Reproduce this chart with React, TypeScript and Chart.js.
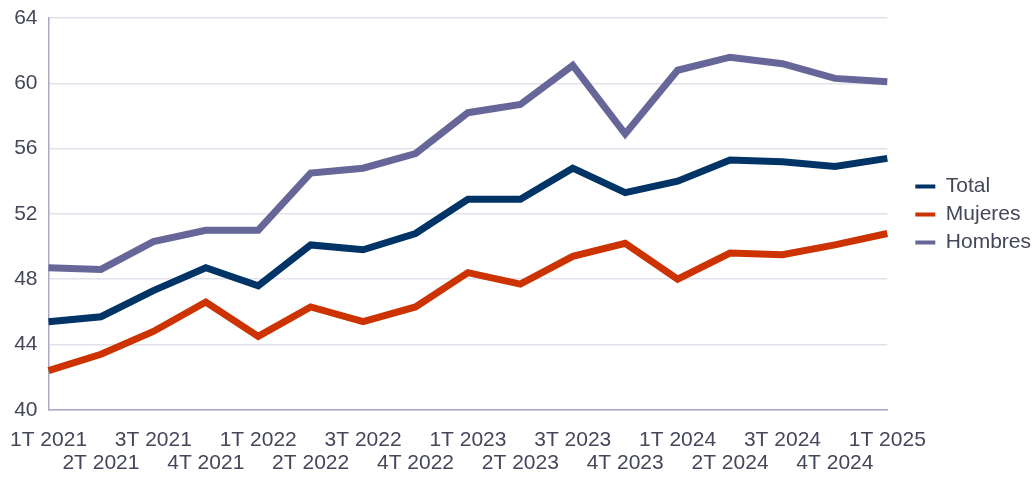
import React, { useEffect, useRef } from "react";
import { Chart, registerables } from "chart.js";

Chart.register(...registerables);

const categories = [
  "1T 2021", "2T 2021", "3T 2021", "4T 2021",
  "1T 2022", "2T 2022", "3T 2022", "4T 2022",
  "1T 2023", "2T 2023", "3T 2023", "4T 2023",
  "1T 2024", "2T 2024", "3T 2024", "4T 2024",
  "1T 2025",
];

const totalValues = [45.4, 45.7, 47.3, 48.7, 47.6, 50.1, 49.8, 50.8, 52.9, 52.9, 54.8, 53.3, 54.0, 55.3, 55.2, 54.9, 55.4];
const mujeresValues = [42.4, 43.4, 44.8, 46.6, 44.5, 46.3, 45.4, 46.3, 48.4, 47.7, 49.4, 50.2, 48.0, 49.6, 49.5, 50.1, 50.8];
const hombresValues = [48.7, 48.6, 50.3, 51.0, 51.0, 54.5, 54.8, 55.7, 58.2, 58.7, 61.1, 56.9, 60.8, 61.6, 61.2, 60.3, 60.1];

const yTicks = [40, 44, 48, 52, 56, 60, 64];

const TEXT = "#444659";
const FONT = "'Liberation Sans', Arial, sans-serif";

export default function App() {
  const ref = useRef<HTMLCanvasElement>(null);

  useEffect(() => {
    if (!ref.current) return;
    const placeLegend = {
      id: "placeLegend",
      afterLayout(chart: any) {
        const l = chart.legend;
        if (l) {
          const dx = 21;
          l.left += dx;
          l.right += dx;
          l.top = 169;
          l.bottom = 477;
        }
      },
    };
    const chart = new Chart(ref.current, {
      type: "line",
      data: {
        labels: categories,
        datasets: [
          { label: "Total", data: totalValues, borderColor: "#003366", backgroundColor: "#003366" },
          { label: "Mujeres", data: mujeresValues, borderColor: "#CC3300", backgroundColor: "#CC3300" },
          { label: "Hombres", data: hombresValues, borderColor: "#666699", backgroundColor: "#666699" },
        ].map((d) => ({ ...d, borderWidth: 7, pointRadius: 0, tension: 0, fill: false, borderJoinStyle: "miter" as const })),
      },
      options: {
        responsive: false,
        animation: false,
        layout: { padding: { top: 18, left: 0, right: 14, bottom: -8 } },
        plugins: {
          tooltip: { enabled: false },
          legend: {
            position: "right",
            align: "start",
            labels: {
              font: { family: FONT, size: 21 },
              color: TEXT,
              boxWidth: 20,
              boxHeight: 4,
              padding: 7,
              generateLabels: (c: any) =>
                c.data.datasets.map((d: any, i: number) => ({
                  text: d.label,
                  fillStyle: d.borderColor,
                  strokeStyle: d.borderColor,
                  lineWidth: 0,
                  fontColor: TEXT,
                  datasetIndex: i,
                  hidden: false,
                })),
            },
          },
        },
        scales: {
          x: {
            type: "category",
            offset: false,
            grid: {
              display: true,
              drawOnChartArea: false,
              drawTicks: true,
              tickLength: 9,
              color: "rgba(0,0,0,0)",
              tickColor: "rgba(0,0,0,0)",
            },
            border: { display: true, color: "#a9a9c6", width: 1.5 },
            ticks: {
              autoSkip: false,
              maxRotation: 0,
              minRotation: 0,
              padding: 10,
              color: TEXT,
              font: { family: FONT, size: 21, lineHeight: 1.1 },
              callback: (_v: any, i: number) => (i % 2 === 0 ? [categories[i], ""] : ["", categories[i]]),
            },
          },
          y: {
            min: 40,
            max: 64,
            afterBuildTicks: (axis: any) => {
              axis.ticks = yTicks.map((v) => ({ value: v }));
            },
            grid: {
              color: "#e1e1ec",
              lineWidth: 1.5,
              drawTicks: true,
              tickLength: 9,
              tickColor: "rgba(0,0,0,0)",
            },
            border: { display: true, color: "#a9a9c6", width: 1.5 },
            ticks: {
              padding: 2,
              color: TEXT,
              font: { family: FONT, size: 21 },
            },
          },
        },
      },
      plugins: [placeLegend],
    } as any);
    return () => chart.destroy();
  }, []);

  return (
    <div style={{ position: "absolute", left: 0, top: 0, width: 1034, height: 477, background: "#fff" }}>
      <canvas ref={ref} width={1034} height={477} />
    </div>
  );
}
